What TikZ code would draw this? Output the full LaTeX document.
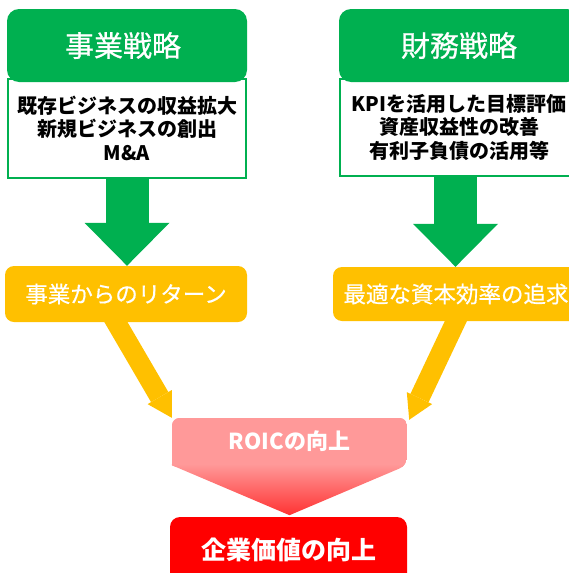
\documentclass[tikz,border=0pt]{standalone}
\usepackage{fontspec}
\setmainfont{Noto Sans CJK JP}
\newfontfamily\medfont{Noto Sans CJK JP}[FakeBold=0.6]
\usetikzlibrary{arrows.meta,calc,backgrounds}
\definecolor{grn}{HTML}{00B050}
\definecolor{ylw}{HTML}{FFC000}
\definecolor{pnk}{HTML}{FF9999}
\definecolor{rd}{HTML}{FF0000}
\definecolor{rdlight}{HTML}{FF3333}
\begin{document}
\begin{tikzpicture}[x=1pt,y=-1pt,
  hdr/.style={fill=grn, rounded corners=12pt, minimum width=240pt, minimum height=73pt, inner sep=0pt,
    text=white, font=\medfont\fontsize{29}{33}\selectfont},
  bodybox/.style={draw=grn, line width=2pt, fill=white, minimum width=238pt, inner sep=0pt,
    align=center, font=\bfseries\fontsize{20}{23.5}\selectfont},
  retbox/.style={fill=ylw, rounded corners=9pt, inner sep=0pt, text=white,
    font=\medfont\fontsize{22.5}{26}\selectfont},
  greenarrow/.style={draw=grn, line width=43pt, -{Triangle[width=85pt,length=43pt,line width=0pt]}},
  yellowarrow/.style={draw=ylw, line width=20pt, -{Triangle[width=28pt,length=24pt,line width=0pt]}},
  roictext/.style={minimum width=235pt, minimum height=47pt, inner sep=0pt, text=white,
    font=\bfseries\fontsize{22}{25}\selectfont},
  valbox/.style={fill=rd, rounded corners=10pt, minimum width=237pt, minimum height=66pt, inner sep=0pt,
    text=white, font=\bfseries\fontsize{25}{28}\selectfont}
]
\useasboundingbox (0,0) rectangle (569,573);
\clip (0,0) rectangle (569,573);

% top boxes
\node[bodybox, minimum height=99pt] (bodyL) at (127,128) {既存ビジネスの収益拡大\\新規ビジネスの創出\\M\&A};
\node[hdr] (hdrL) at (127,45.5) {\hspace*{-8pt}事業戦略};
\node[bodybox, minimum height=97pt] (bodyR) at (459,127) {KPIを活用した目標評価\\資産収益性の改善\\有利子負債の活用等};
\node[hdr] (hdrR) at (459,45.5) {財務戦略};

% yellow boxes
\node[retbox, minimum width=242pt, minimum height=56pt] (retL) at (126,294) {事業からのリターン};
\node[retbox, minimum width=246pt, minimum height=54pt] (retR) at (456,294) {最適な資本効率の追求};

% ROIC and value
\node[roictext] (roic) at (289.5,441.5) {ROICの向上};
\coordinate (roictip) at ($(roic.south)+(0,50)$);
\node[valbox] (val) at (288.5,550) {企業価値の向上};

% green arrows
\draw[greenarrow] (bodyL.south) -- (bodyL.south |- retL.north);
\draw[greenarrow] ($(bodyR.south)+(-3.5,0)$) -- ($(bodyR.south |- retR.north)+(-3.5,0)$);

\coordinate (ls) at ($(retL.south)+(-10,0)$);
\coordinate (rs) at ($(retR.south)+(-1,1)$);

\begin{scope}[on background layer]
  % ROIC shape with gradient
  \begin{scope}
    \clip[rounded corners=8pt] (roic.south west) -- (roic.north west) -- (roic.north east) -- (roic.south east)
      [sharp corners] -- (roictip) -- cycle;
    \fill[pnk] (roic.north west) rectangle ($(roic.south east)+(0,2)$);
    \shade[top color=pnk, bottom color=rdlight] ($(roic.south west)+(0,-1)$) rectangle ($(roictip -| roic.east)$);
  \end{scope}
  % yellow arrows
  \draw[yellowarrow] ($(ls)!-14pt!(roic.north west)$) -- (roic.north west);
  \draw[yellowarrow] ($(rs)!-14pt!(roic.north east)$) -- ($(roic.north east)+(2,2)$);
\end{scope}
\end{tikzpicture}
\end{document}
